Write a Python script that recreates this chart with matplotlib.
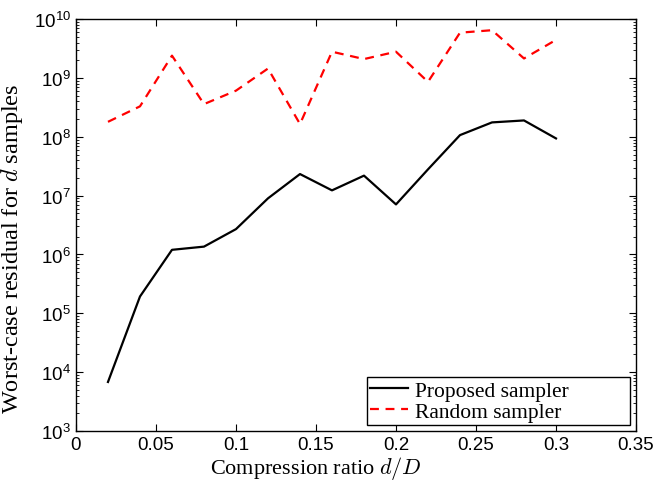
import numpy as np
import matplotlib
matplotlib.use('Agg')
import matplotlib.pyplot as plt
from matplotlib.ticker import LogLocator, FixedLocator, NullFormatter

# Data
ratio = [0.02, 0.04, 0.06, 0.08, 0.10, 0.12, 0.14, 0.16, 0.18, 0.20,
         0.22, 0.24, 0.26, 0.28, 0.30]
proposed = [6.8e3, 1.93e5, 1.2e6, 1.36e6, 2.7e6, 9.0e6, 2.33e7, 1.23e7,
            2.19e7, 7.1e6, 2.8e7, 1.07e8, 1.76e8, 1.9e8, 9.4e7]
random_s = [1.8e8, 3.3e8, 2.4e9, 3.6e8, 6.1e8, 1.45e9, 1.65e8, 2.8e9,
            2.1e9, 2.8e9, 8.6e8, 5.9e9, 6.5e9, 2.15e9, 4.45e9]
xticks = [0, 0.05, 0.1, 0.15, 0.2, 0.25, 0.3, 0.35]
xtick_labels = ['0', '0.05', '0.1', '0.15', '0.2', '0.25', '0.3', '0.35']

plt.rcParams['mathtext.fontset'] = 'cm'

fig = plt.figure(figsize=(6.55, 4.81), dpi=100)
ax = fig.add_axes([0.116, 0.102, 0.855, 0.856])

ax.plot(ratio, proposed, color='black', linewidth=1.6, label='Proposed sampler')
ax.plot(ratio, random_s, color='red', linewidth=1.6, linestyle=(0, (4, 3)),
        label='Random sampler')

ax.set_yscale('log')
ax.set_xlim(0, 0.35)
ax.set_ylim(1e3, 1e10)
ax.xaxis.set_major_locator(FixedLocator(xticks))
ax.set_xticklabels(xtick_labels, fontfamily='Liberation Sans', fontsize=13.5)
ax.yaxis.set_major_locator(LogLocator(base=10, numticks=20))
ax.yaxis.set_minor_locator(LogLocator(base=10, subs=np.arange(2, 10), numticks=20))
ax.yaxis.set_minor_formatter(NullFormatter())
for lab in ax.get_yticklabels():
    lab.set_fontfamily('Liberation Sans')
    lab.set_fontsize(13.5)
ax.tick_params(which='both', direction='in', top=True, right=True)
ax.tick_params(which='major', length=5, width=0.8)
ax.tick_params(which='minor', length=2.5, width=0.6)
ax.tick_params(axis='x', pad=4)

ax.set_xlabel('Compression ratio $d/D$', fontfamily='Liberation Serif', fontsize=16)
ax.xaxis.set_label_coords(0.429, -0.056)
ax.set_ylabel('Worst-case residual for $d$ samples', fontfamily='Liberation Serif',
              fontsize=17.5)
ax.yaxis.set_label_coords(-0.091, 0.444)

# MATLAB-style legend box: wide frame with the entries packed to the left
leg = ax.legend(loc='lower left', bbox_to_anchor=(0.52, 0.0146, 0.469, 0.116),
                mode='expand', borderaxespad=0, fancybox=False,
                edgecolor='black', framealpha=1, handlelength=1.75,
                prop={'family': 'Liberation Serif', 'size': 15.5},
                borderpad=0.15, labelspacing=0.05, handletextpad=0.3)
leg.get_frame().set_linewidth(1.0)

for s in ax.spines.values():
    s.set_linewidth(1.0)

fig.savefig('out.png', dpi=100)
